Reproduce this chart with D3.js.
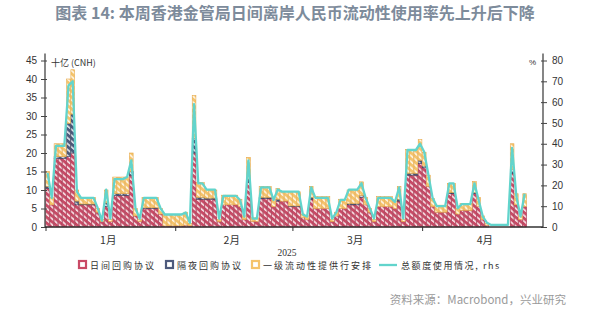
<!DOCTYPE html>
<html>
<head>
<meta charset="utf-8">
<script src="https://cdn.jsdelivr.net/npm/d3@7/dist/d3.min.js"></script>
<style>
  body { margin: 0; background: #fff; }
  svg { display: block; }
  .tick text { font-family: "Liberation Sans", Arial, sans-serif; font-size: 10px; fill: #333; }
  .cjk { font-family: "Noto Sans CJK SC", sans-serif; }
</style>
</head>
<body>
<div id="chart"></div>
<script>
// daily values from 2025-01-01, 十亿 (CNH)
var startDay = new Date(2025, 0, 1);

var intradayRepo = [
  10.5, 6, 18.5, 18.5, 18.5, 19, 20, 6, 6, 6,
  6, 6, 4, 1.5, 5.5, 1.5, 8.5, 8.5, 8.5, 8.5,
  14, 3, 1.5, 5, 5, 5, 5, 3.5, 0.3, 0.3,
  0.3, 0.3, 0.3, 0.5, 0.3, 20, 7.5, 7.5, 7.5, 7.5,
  7.5, 1.5, 6, 6, 6, 6, 5.5, 2, 12, 1.5,
  1.5, 7.7, 7.7, 7.7, 5.5, 7, 7, 7, 5.5, 5.5,
  5.5, 2.5, 2, 7.5, 5, 5, 5, 5, 1.5, 3,
  5, 5, 6, 6, 6, 8, 6, 4, 1.5, 5.5,
  5.5, 5.5, 5.5, 5, 7, 1.5, 14, 14, 14, 17.2,
  16, 11, 5.5, 4, 4, 4, 9, 9, 3.5, 4.5,
  4.5, 4.5, 9, 5.5, 2, 0.5, 0, 0, 0, 0,
  0, 14.5, 6, 2, 5.5
];
var overnightRepo = [
  0.5, 0, 0.5, 0.5, 0.5, 9, 10.5, 1, 0.2, 0.2,
  0.2, 0.2, 0, 0, 1, 0, 0.5, 0.5, 0.5, 0.5,
  1, 0, 0, 0.2, 0.2, 0.2, 0.2, 0, 0, 0,
  0, 0, 0, 0, 0, 4, 0.5, 0.5, 0.3, 0.3,
  0.3, 0, 0, 0, 0, 0, 0, 0, 1, 0,
  0, 0.3, 0.3, 0.3, 0, 0.5, 0, 0, 0.2, 0.2,
  0.2, 0, 0, 0.5, 0, 0, 0, 0, 0, 0,
  0, 0, 0.3, 0.3, 0.3, 0.5, 0, 0, 0, 0,
  0, 0, 0, 0, 0.5, 0, 0.5, 0.5, 0.5, 0.8,
  0.5, 0, 0, 0, 0, 0, 0.3, 0.3, 0, 0,
  0, 0, 0.3, 0, 0, 0, 0, 0, 0, 0,
  0, 1, 0, 0, 0
];
var primaryLiquidity = [
  4, 2, 3.5, 3.5, 3.5, 12, 12, 3, 1.8, 1.8,
  1.8, 1.8, 1, 0.5, 3.5, 0.5, 4.5, 4.5, 4.5, 4.5,
  5, 2, 0.5, 2.8, 2.8, 2.8, 2.8, 1.5, 3, 3,
  3, 3, 3, 3.5, 0.7, 11.5, 4, 4, 2.2, 2.2,
  2.2, 0.5, 2.6, 2.6, 2.6, 2.6, 2, 1, 5.8, 1,
  1, 2.9, 2.9, 2.9, 1.8, 2.9, 2.5, 2.5, 3.8, 3.8,
  3.8, 1, 1, 3, 3.2, 3.2, 3.2, 3.2, 0.5, 1,
  2.5, 2.5, 3.7, 3.7, 3.7, 3.7, 2, 1, 0.5, 2.7,
  2.7, 2.7, 2.7, 2, 3.5, 0.5, 6.5, 6.5, 6.5, 5.6,
  3.7, 3, 2.2, 1.9, 1.9, 1.9, 2.5, 2.5, 1.5, 1.9,
  1.9, 1.9, 3, 2.5, 1, 0.5, 0, 0, 0, 0,
  0, 7, 3, 1, 3.5
];
// 总额度使用情况, % (rhs)
var totalUsage = [
  26, 14, 39, 39, 39, 68, 70, 17, 14, 14,
  14, 14, 9, 3, 18, 4, 23, 23, 23, 24,
  32, 9, 4, 14, 14, 14, 14, 9, 6, 6,
  6, 6, 6, 7, 2, 59, 21, 21, 18, 18,
  18, 4, 15, 15, 15, 15, 13, 5, 32, 4,
  4, 19, 19, 19, 13, 18, 17, 17, 17, 17,
  17, 6, 5, 19, 14, 14, 14, 14, 4, 7,
  13, 13, 18, 18, 18, 21, 14, 9, 4, 14,
  14, 14, 14, 12, 19, 4, 37, 37, 37, 40,
  36, 25, 14, 10, 10, 10, 21, 21, 9, 11,
  11, 11, 21, 13, 5, 2, 1, 1, 1, 1,
  1, 38, 15, 5, 16
];

var leftTicks = [0, 5, 10, 15, 20, 25, 30, 35, 40, 45];
var rightTicks = [0, 10, 20, 30, 40, 50, 60, 70, 80];
var monthLabels = ["1月", "2月", "3月", "4月"];
var seriesNames = ["日间回购协议", "隔夜回购协议", "一级流动性提供行安排"];
var lineName = "总额度使用情况, rhs";

var W = 593, H = 320;
var plotL = 45, plotR = 543, plotT = 60.5, plotB = 227;

var svg = d3.select("#chart").append("svg")
    .attr("width", W)
    .attr("height", H);

// hatch patterns, white diagonal stripes over the fill
var palette = [
    {id: "hRed", fill: "#c94a66", edge: "#a3334c"},
    {id: "hBlue", fill: "#4d5a7c", edge: "#36405c"},
    {id: "hYel", fill: "#f5c46c", edge: "#e6a94a"}
];
var defs = svg.append("defs");
palette.forEach(function (p) {
    var pat = defs.append("pattern")
        .attr("id", p.id)
        .attr("patternUnits", "userSpaceOnUse")
        .attr("width", 4.5).attr("height", 4.5)
        .attr("patternTransform", "rotate(-50)");
    pat.append("rect").attr("width", 4.5).attr("height", 4.5).attr("fill", p.fill);
    pat.append("rect").attr("width", 1.6).attr("height", 4.5).attr("fill", "#fff").attr("opacity", 0.85);
});

var days = intradayRepo.map(function (v, i) { return d3.timeDay.offset(startDay, i); });

var x = d3.scaleTime()
    .domain([new Date(2025, 0, 1), new Date(2025, 3, 30)])
    .range([plotL + 0.5, plotR + 0.5]);
var y = d3.scaleLinear().domain([0, 45]).range([plotB, plotT]);
var y2 = d3.scaleLinear().domain([0, 80]).range([plotB, plotT]);

// stack the three bar series
var rows = days.map(function (d, i) {
    return {date: d, a: intradayRepo[i], b: overnightRepo[i], c: primaryLiquidity[i]};
});
var stacked = d3.stack().keys(["a", "b", "c"])(rows);

var bw = x(days[1]) - x(days[0]);

stacked.forEach(function (layer, k) {
    svg.append("g").selectAll("rect")
        .data(layer.filter(function (s) { return s[1] - s[0] > 0; }))
        .enter().append("rect")
        .attr("x", function (s) { return x(s.data.date) + 0.25; })
        .attr("width", bw - 0.5)
        .attr("y", function (s) { return y(s[1]); })
        .attr("height", function (s) { return y(s[0]) - y(s[1]); })
        .attr("fill", "url(#" + palette[k].id + ")")
        .attr("stroke", palette[k].edge)
        .attr("stroke-width", 0.6);
});

// usage line on right scale
var line = d3.line()
    .x(function (d, i) { return x(days[i]) + bw / 2; })
    .y(function (d) { return y2(d); });

svg.append("path")
    .datum(totalUsage)
    .attr("d", line)
    .attr("fill", "none")
    .attr("stroke", "#62d4cc")
    .attr("stroke-width", 2.3)
    .attr("stroke-linejoin", "round");

// axes
var yAxis = d3.axisLeft(y).tickValues(leftTicks).tickSizeInner(4).tickSizeOuter(0).tickPadding(4);
var gy = svg.append("g").attr("transform", "translate(" + plotL + ",0)").call(yAxis);

var yAxis2 = d3.axisRight(y2).tickValues(rightTicks).tickSizeInner(4).tickSizeOuter(0).tickPadding(5);
var gy2 = svg.append("g").attr("transform", "translate(" + plotR + ",0)").call(yAxis2);

[gy, gy2].forEach(function (g) {
    g.select(".domain").attr("stroke", "#444").attr("stroke-width", 1.3)
        .attr("d", "M0," + (plotT - 7) + "V" + plotB);
    g.selectAll(".tick line").attr("stroke", "#444");
});
gy.selectAll(".tick line").attr("x1", 2).attr("x2", -4);
gy2.selectAll(".tick line").attr("x1", -2).attr("x2", 4);

var monthStarts = [new Date(2025, 0, 1), new Date(2025, 1, 1), new Date(2025, 2, 1), new Date(2025, 3, 1)];
var xAxis = d3.axisBottom(x).tickValues(monthStarts).tickFormat("").tickSizeInner(4).tickSizeOuter(0);
var gx = svg.append("g").attr("transform", "translate(0," + plotB + ")").call(xAxis);
gx.select(".domain").attr("stroke", "#333").attr("stroke-width", 1.5)
    .attr("d", "M" + plotL + ",0H" + plotR);
gx.selectAll(".tick line").attr("stroke", "#333");

// month labels centred in each month
var monthMids = [new Date(2025, 0, 16), new Date(2025, 1, 14, 12), new Date(2025, 2, 16), new Date(2025, 3, 16)];
svg.append("g").selectAll("text")
    .data(monthLabels)
    .enter().append("text")
    .attr("class", "cjk")
    .attr("x", function (d, i) { return x(monthMids[i]); })
    .attr("y", 244)
    .attr("text-anchor", "middle")
    .attr("font-size", 10.5)
    .attr("fill", "#333")
    .text(function (d) { return d; });

svg.append("text")
    .attr("x", 287).attr("y", 256)
    .attr("text-anchor", "middle")
    .attr("font-family", "Liberation Serif, serif")
    .attr("font-size", 9.5)
    .attr("fill", "#333")
    .text("2025");

// unit labels
svg.append("text").attr("class", "cjk")
    .attr("x", 51).attr("y", 66)
    .attr("font-size", 9).attr("fill", "#333")
    .text("十亿 (CNH)");
svg.append("text")
    .attr("x", 536).attr("y", 65)
    .attr("text-anchor", "end")
    .attr("font-family", "Liberation Sans, sans-serif")
    .attr("font-size", 8).attr("fill", "#333")
    .text("%");

// title
svg.append("text").attr("class", "cjk")
    .attr("x", 295).attr("y", 19)
    .attr("text-anchor", "middle")
    .attr("font-size", 16)
    .attr("font-weight", "bold")
    .attr("fill", "#7d8b9b")
    .text("图表 14: 本周香港金管局日间离岸人民币流动性使用率先上升后下降");

// legend
var legend = svg.append("g").attr("class", "cjk").attr("font-size", 9).attr("fill", "#333");
var legendX = [79, 166, 252];
seriesNames.forEach(function (name, k) {
    legend.append("rect")
        .attr("x", legendX[k]).attr("y", 261)
        .attr("width", 7).attr("height", 7)
        .attr("fill", "#fff")
        .attr("stroke", palette[k].fill)
        .attr("stroke-width", 2.2);
    legend.append("text")
        .attr("x", legendX[k] + 11).attr("y", 268.5)
        .attr("letter-spacing", 2)
        .text(name);
});
legend.append("line")
    .attr("x1", 379).attr("x2", 397)
    .attr("y1", 265).attr("y2", 265)
    .attr("stroke", "#62d4cc").attr("stroke-width", 2.3);
legend.append("text")
    .attr("x", 401).attr("y", 268.5)
    .attr("letter-spacing", 1.6)
    .text(lineName);

// source
svg.append("text").attr("class", "cjk")
    .attr("x", 566).attr("y", 304)
    .attr("text-anchor", "end")
    .attr("font-size", 11.5)
    .attr("fill", "#9a9a9a")
    .text("资料来源：Macrobond，兴业研究");
</script>
</body>
</html>
